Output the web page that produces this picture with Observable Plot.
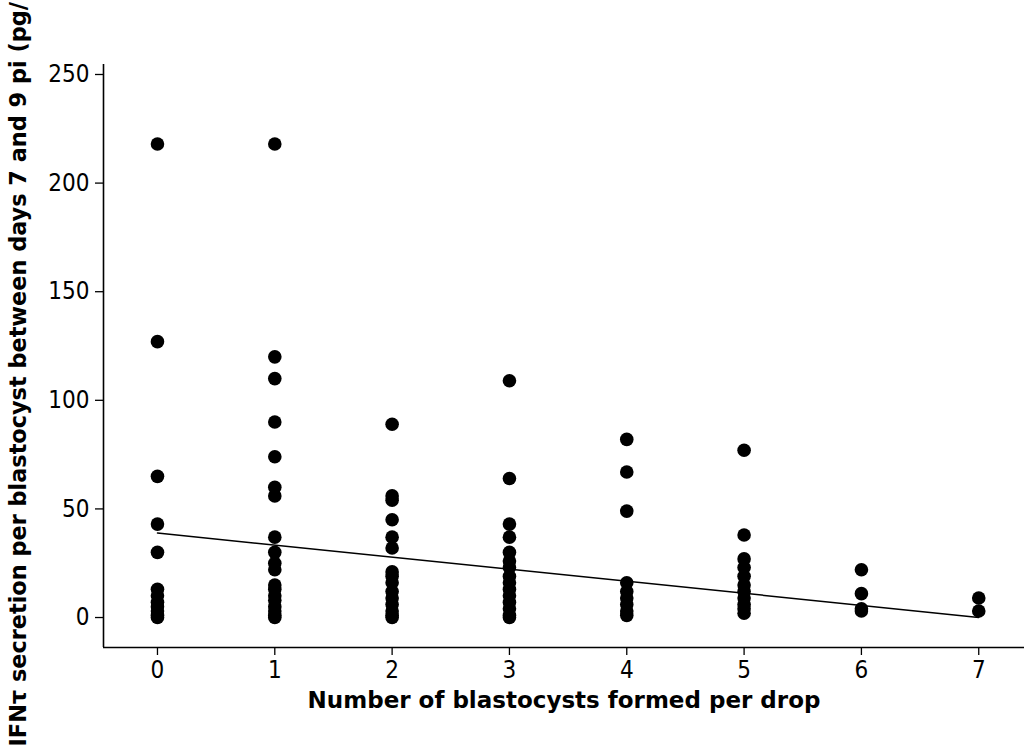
<!DOCTYPE html>
<html>
<head>
<meta charset="utf-8">
<script src="https://cdn.jsdelivr.net/npm/d3@7"></script>
<script src="https://cdn.jsdelivr.net/npm/@observablehq/plot@0.6"></script>
<style>
  html, body { margin: 0; padding: 0; background: #fff; }
  #chart svg { display: block; }
</style>
</head>
<body>
<div id="chart"></div>
<script>
// IFN-tau secretion per blastocyst (pg/ml) grouped by the number of blastocysts formed per drop
const blastocystsPerDrop = [0, 1, 2, 3, 4, 5, 6, 7];
const secretion0 = [218, 127, 65, 43, 30, 13, 10, 7, 5, 3, 1, 0];
const secretion1 = [218, 120, 110, 90, 74, 60, 56, 37, 30, 25, 22, 15, 13, 10, 8, 5, 3, 1, 0];
const secretion2 = [89, 56, 54, 45, 37, 32, 21, 19, 16, 12, 9, 6, 3, 1, 0];
const secretion3 = [109, 64, 43, 37, 30, 26, 23, 19, 16, 13, 10, 7, 4, 1, 0];
const secretion4 = [82, 67, 49, 16, 12, 9, 6, 3, 1];
const secretion5 = [77, 38, 27, 23, 19, 15, 12, 9, 6, 4, 2];
const secretion6 = [22, 11, 4, 3];
const secretion7 = [9, 3];
const yTicks = [0, 50, 100, 150, 200, 250];

// fitted least-squares line
const fitIntercept = 38.9;
const fitSlope = -5.55;

const xTitle = "Number of blastocysts formed per drop";
const yTitle = "IFNτ secretion per blastocyst between days 7 and 9 pi (pg/";

const groups = [secretion0, secretion1, secretion2, secretion3, secretion4, secretion5, secretion6, secretion7];
const points = groups.flatMap((vals, i) => vals.map(v => ({n: blastocystsPerDrop[i], v})));
const fitLine = [0, 7].map(n => ({n, v: fitIntercept + fitSlope * n}));

const xDomain = [-0.46, 7.39];
const yDomain = [-13.8, 254.6];
const tickFont = "'DejaVu Sans Condensed', 'DejaVu Sans', sans-serif";
const titleFont = "'DejaVu Sans', Verdana, sans-serif";

const chart = Plot.plot({
  width: 1024,
  height: 749,
  marginLeft: 103,
  marginRight: 0,
  marginTop: 64,
  marginBottom: 102,
  style: {background: "#fff", color: "#000", fontFamily: tickFont, fontSize: "24px", overflow: "visible"},
  x: {domain: xDomain},
  y: {domain: yDomain},
  marks: [
    Plot.axisX(blastocystsPerDrop, {tickSize: 8, tickPadding: 5, tickFormat: "d", label: null, fontSize: 24, stroke: "#000", strokeWidth: 1.3}),
    Plot.axisY(yTicks, {tickSize: 8, tickPadding: 6, tickFormat: "d", label: null, fontSize: 24, stroke: "#000", strokeWidth: 1.3}),
    Plot.ruleX([xDomain[0]], {stroke: "#000", strokeWidth: 1.6}),
    Plot.ruleY([yDomain[0]], {stroke: "#000", strokeWidth: 1.6}),
    Plot.line(fitLine, {x: "n", y: "v", stroke: "#000", strokeWidth: 1.5}),
    Plot.dot(points, {x: "n", y: "v", r: 6.8, fill: "#000", stroke: "none"}),
    Plot.text([xTitle], {frameAnchor: "bottom", dy: 60, fontWeight: "bold", fontSize: 23, fontFamily: titleFont, fill: "#000"}),
    Plot.text([yTitle], {frameAnchor: "bottom-left", textAnchor: "start", dx: -78, dy: 99, rotate: -90, fontWeight: "bold", fontSize: 22.4, fontFamily: titleFont, fill: "#000"})
  ]
});
document.getElementById("chart").appendChild(chart);
</script>
</body>
</html>
